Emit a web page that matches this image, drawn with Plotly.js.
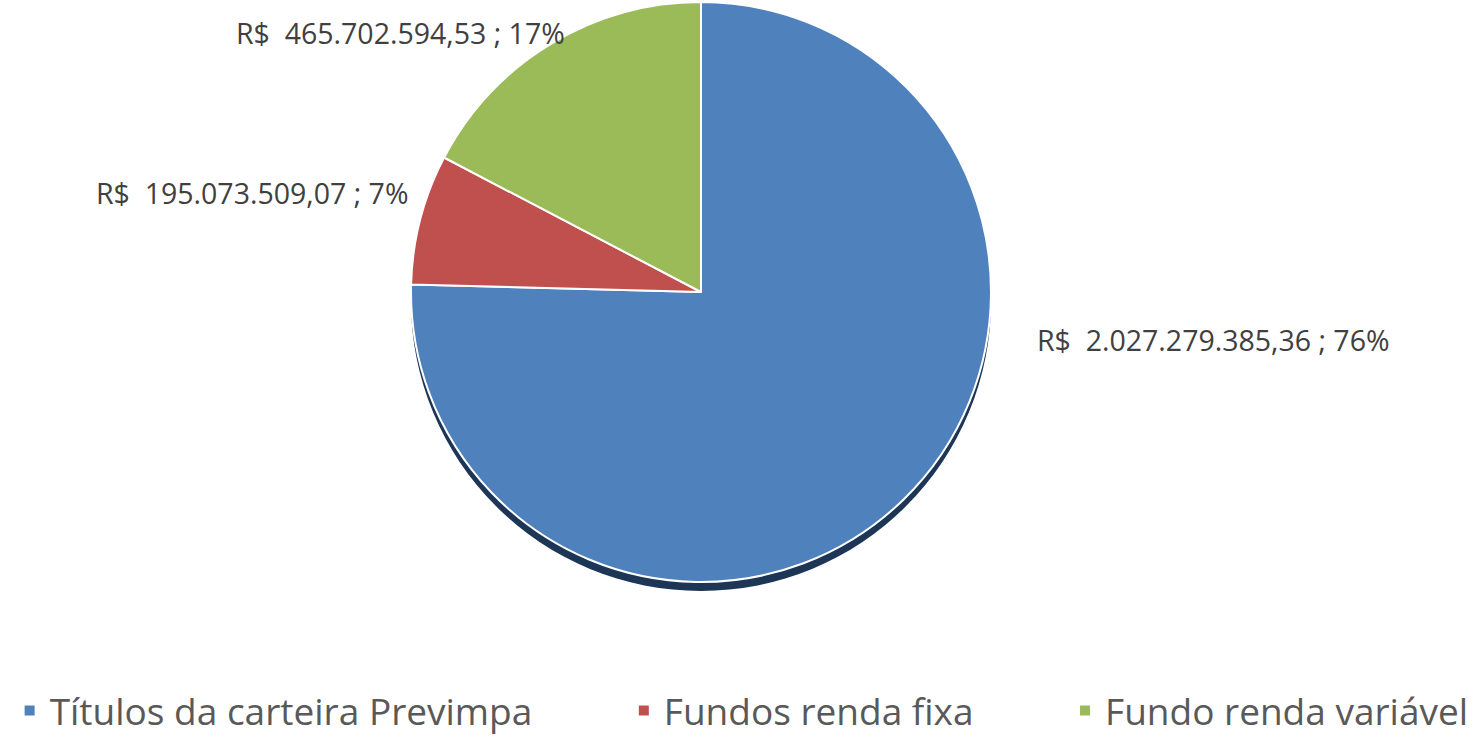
<!DOCTYPE html>
<html>
<head>
<meta charset="utf-8">
<script src="https://cdn.plot.ly/plotly-3.0.1.min.js"></script>
<style>html,body{margin:0;padding:0;background:#fff;}#chart{width:1481px;height:736px;}</style>
</head>
<body>
<div id="chart"></div>
<script>
var categories = ["Títulos da carteira Previmpa", "Fundos renda fixa", "Fundo renda variável"];
var values = [2027279385.36, 195073509.07, 465702594.53];
var percentLabels = ["76%", "7%", "17%"];
var colors = ["#4F81BD", "#C0504D", "#9BBB59"];

function fmtBR(v) {
  var parts = v.toFixed(2).split(".");
  var intPart = parts[0].replace(/\B(?=(\d{3})+(?!\d))/g, ".");
  return intPart + "," + parts[1];
}
var labelTexts = values.map(function (v, i) {
  return "R$\u00a0 " + fmtBR(v) + " ; " + percentLabels[i];
});

var legendPad = ["\u00a0\u00a0\u00a0\u00a0\u00a0\u00a0\u00a0\u00a0\u00a0", "\u00a0\u00a0\u00a0\u00a0\u00a0\u00a0\u00a0\u00a0\u00a0", ""];
var legendNames = categories.map(function (c, i) { return c + legendPad[i]; });

var W = 1481, H = 736;
var cx = 701, cy = 292, r = 290;
var dom = {
  x: [(cx - r) / W, (cx + r) / W],
  y: [(H - cy - r) / H, (H - cy + r) / H]
};
var sh = 9;
var shadowDom = {
  x: dom.x,
  y: [(H - cy - sh - r) / H, (H - cy - sh + r) / H]
};

var shadow = {
  type: "pie",
  values: [1],
  labels: ["shadow"],
  marker: { colors: ["#1E3656"], line: { width: 0 } },
  textinfo: "none",
  hoverinfo: "skip",
  showlegend: false,
  sort: false,
  domain: shadowDom
};

var pie = {
  type: "pie",
  values: values,
  labels: legendNames,
  marker: { colors: colors, line: { color: "#FFFFFF", width: 2 } },
  textinfo: "none",
  sort: false,
  direction: "clockwise",
  rotation: 0,
  domain: dom,
  hoverinfo: "label+value+percent"
};

var labelPos = [
  { x: 1035 / W, y: 1 - 340 / H, xanchor: "left" },
  { x: 410 / W, y: 1 - 193 / H, xanchor: "right" },
  { x: 567 / W, y: 1 - 33 / H, xanchor: "right" }
];
var annotations = labelTexts.map(function (t, i) {
  return {
    xref: "paper", yref: "paper",
    x: labelPos[i].x, y: labelPos[i].y,
    xanchor: labelPos[i].xanchor, yanchor: "middle",
    text: t, showarrow: false,
    font: { family: "Open Sans", size: 28.5, color: "#404040" }
  };
});

var layout = {
  width: W, height: H,
  margin: { l: 0, r: 0, t: 0, b: 0, autoexpand: false },
  paper_bgcolor: "#FFFFFF",
  showlegend: true,
  legend: {
    orientation: "h",
    x: 0.0065, xanchor: "left",
    y: 1 - 711 / H, yanchor: "middle",
    font: { family: "Open Sans", size: 37, color: "#595959" },
    bgcolor: "rgba(0,0,0,0)"
  },
  annotations: annotations
};

Plotly.newPlot("chart", [shadow, pie], layout, { displayModeBar: false, staticPlot: true });
</script>
</body>
</html>
